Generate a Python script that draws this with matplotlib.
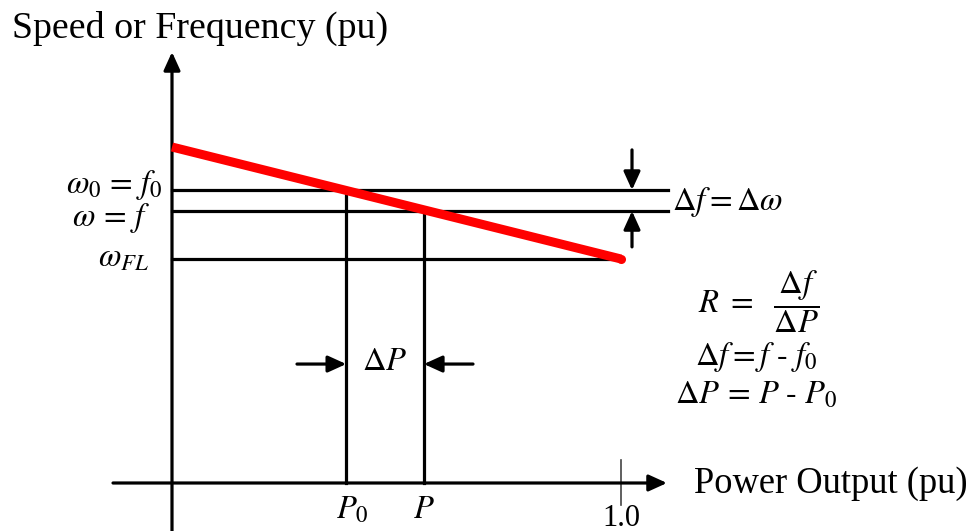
import matplotlib
matplotlib.use("Agg")
import matplotlib.pyplot as plt
from matplotlib.patches import FancyArrowPatch

plt.rcParams["mathtext.fontset"] = "stix"
plt.rcParams["font.family"] = ["Liberation Serif", "DejaVu Serif"]

# Governor droop characteristic (per-unit)
power_pts = [0.0, 1.0]            # no load -> full load
freq_pts = [1.05, 1.00]           # no-load and full-load speed
P0, P1 = 0.388, 0.561             # initial / new power output
f0, f1 = 1.0308, 1.0214           # initial / new frequency
f_fl = 1.00
f_axis = 0.90                     # level of the power axis
x_tick_vals = [1.0]
x_tick_labels = ["1.0"]

fig = plt.figure(figsize=(9.76, 5.31), dpi=100)
ax = fig.add_axes([0, 0, 1, 1])
ax.set_xlim(-0.38307, 1.79065)
ax.set_ylim(0.87857, 1.11562)
ax.axis("off")

LW = 2.3
K = "black"


def arrow(x0, y0, x1, y1, lw=LW):
    a = FancyArrowPatch((x0, y0), (x1, y1),
                        arrowstyle="-|>,head_length=0.55,head_width=0.25",
                        mutation_scale=20, lw=lw, color=K,
                        shrinkA=0, shrinkB=0, zorder=4)
    ax.add_patch(a)


# axes with arrow heads
arrow(0, 0.8786, 0, 1.0924)
arrow(-0.1314, f_axis, 1.1024, f_axis)

# tick at rated power
for xv, lab in zip(x_tick_vals, x_tick_labels):
    ax.plot([xv, xv], [0.8902, 0.9103], color="#444444", lw=1.2, zorder=3)
    ax.text(xv, 0.8843, lab, ha="center", va="center", fontsize=22)

# horizontal speed levels
ax.plot([0, 1.1047], [f0, f0], color=K, lw=LW, zorder=3)
ax.plot([0, 1.1047], [f1, f1], color=K, lw=LW, zorder=3)
ax.plot([0, power_pts[1]], [f_fl, f_fl], color=K, lw=LW, zorder=3)

# vertical power levels
ax.plot([P0, P0], [f_axis, f0], color=K, lw=LW, zorder=3)
ax.plot([P1, P1], [f_axis, f1], color=K, lw=LW, zorder=3)

# droop line (round end at full load)
ax.plot(power_pts, freq_pts, color="#ff0000", lw=6.5,
        solid_capstyle="butt", zorder=5)
ax.plot(power_pts[-1:], freq_pts[-1:], "o", color="#ff0000", ms=6.5,
        mew=0, zorder=5)

# delta-f arrows
arrow(1.0245, 1.0487, 1.0245, f0)
arrow(1.0245, 1.0054, 1.0245, f1)

# delta-P arrows
arrow(0.2784, 0.9531, P0, 0.9531)
arrow(0.6704, 0.9531, P1, 0.9531)

MS = 23.5
ax.text(0.4744, 0.9540, r"$\Delta P$", ha="center", va="center", fontsize=MS)

ax.text(-0.020, 1.0330, r"$\omega_{\mathit{0}}\,=\,f_{\mathit{0}}$",
        ha="right", va="center", fontsize=MS)
ax.text(-0.049, 1.0185, r"$\omega\,=\,f$", ha="right", va="center",
        fontsize=MS)
ax.text(-0.052, 1.0005, r"$\omega_{FL}$", ha="right", va="center", fontsize=MS)

ax.text(1.1130, 1.0255, r"$\Delta f = \Delta\omega$", ha="left",
        va="center", fontsize=MS)

ax.text(1.3060, 0.9808, r"$R\ =\ \ \dfrac{\Delta f}{\Delta P}$", ha="center",
        va="center", fontsize=MS)
ax.text(1.3010, 0.9562, r"$\Delta f = f\ \text{-}\ f_{\mathit{0}}$",
        ha="center", va="center", fontsize=MS)
ax.text(1.3010, 0.9393, r"$\Delta P\,=\,P\ \text{-}\ P_{\mathit{0}}$",
        ha="center", va="center", fontsize=MS)

ax.text(0.4010, 0.8880, r"$P_{\mathit{0}}$", ha="center", va="center",
        fontsize=MS)
ax.text(P1, 0.8880, r"$P$", ha="center", va="center", fontsize=MS)

# axis titles
ax.text(-0.3564, 1.0987, "Speed or Frequency (pu)", ha="left",
        va="baseline", fontsize=27.3)
ax.text(1.1626, 0.8955, "Power Output (pu)", ha="left", va="baseline",
        fontsize=26.3)

fig.savefig("out.png", dpi=100)
